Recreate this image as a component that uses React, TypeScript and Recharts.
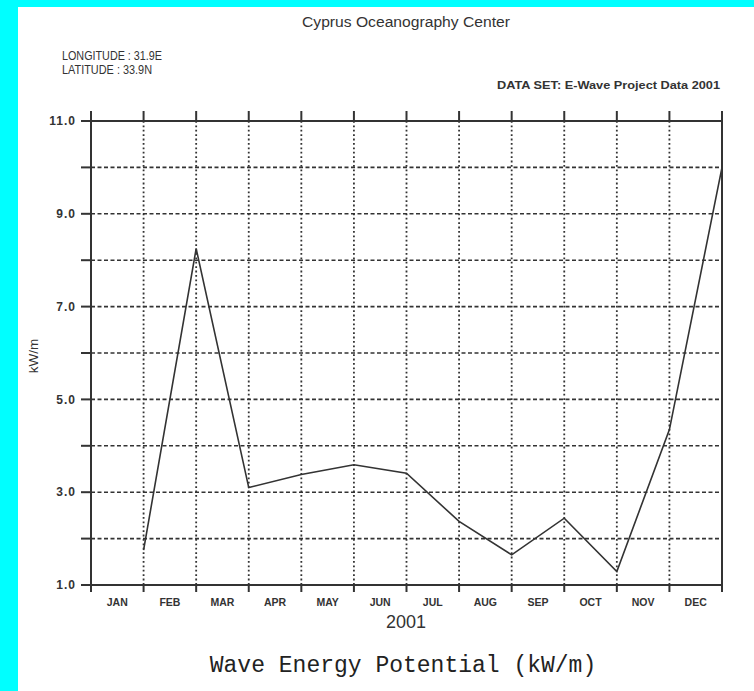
import { LineChart, Line, XAxis, YAxis, CartesianGrid } from 'recharts';

// monthly mean wave energy potential, kW/m (plotted at each month's end)
const months = ['JAN', 'FEB', 'MAR', 'APR', 'MAY', 'JUN', 'JUL', 'AUG', 'SEP', 'OCT', 'NOV', 'DEC'];
const kwValues = [1.75, 8.25, 3.1, 3.38, 3.59, 3.41, 2.37, 1.65, 2.44, 1.29, 4.35, 10.0];
const yTicks = [1, 2, 3, 4, 5, 6, 7, 8, 9, 10, 11];
const monthEdges = [0, 1, 2, 3, 4, 5, 6, 7, 8, 9, 10, 11, 12];
const monthMids = months.map((_, i) => i + 0.5);

const data = kwValues.map((kw, i) => ({ m: i + 1, kw }));

const INK = '#333';
const sans = '"Liberation Sans", Arial, sans-serif';
const blank = () => '';

export default function App() {
  return (
    <div
      style={{
        position: 'absolute',
        left: 0,
        top: 0,
        width: 754,
        height: 691,
        background: '#00ffff',
        overflow: 'hidden',
      }}
    >
      <div
        style={{ position: 'absolute', left: 18, top: 7, width: 736, height: 684, background: '#fff' }}
      />
      <div style={{ position: 'absolute', left: 0, top: 0 }}>
        <LineChart width={754} height={691} data={data} margin={{ top: 120, right: 22, left: 31, bottom: 65 }}>
          <CartesianGrid
            xAxisId="grid"
            yAxisId="left"
            vertical={false}
            stroke="#333"
            strokeWidth={1.6}
            strokeDasharray="4 2.5"
          />
          <CartesianGrid
            xAxisId="grid"
            yAxisId="left"
            horizontal={false}
            stroke="#333"
            strokeWidth={1.8}
            strokeDasharray="1.8 2.6"
          />
          <XAxis
            xAxisId="grid"
            type="number"
            dataKey="m"
            domain={[0, 12]}
            ticks={monthEdges}
            interval={0}
            tickFormatter={blank}
            tickSize={7}
            height={1}
            axisLine={{ stroke: INK, strokeWidth: 2 }}
            tickLine={{ stroke: INK, strokeWidth: 2 }}
          />
          <XAxis
            xAxisId="label"
            type="number"
            dataKey="m"
            domain={[0, 12]}
            allowDataOverflow
            ticks={monthMids}
            tickFormatter={(v: number) => months[Math.floor(v)]}
            axisLine={false}
            tickLine={false}
            tickSize={0}
            tickMargin={13}
            height={40}
            tick={{ fontSize: 10.5, fontWeight: 'bold', fill: INK, fontFamily: sans }}
            interval={0}
          />
          <XAxis
            xAxisId="top"
            orientation="top"
            type="number"
            dataKey="m"
            domain={[0, 12]}
            ticks={monthEdges}
            interval={0}
            tickFormatter={blank}
            tickSize={10}
            height={1}
            axisLine={{ stroke: INK, strokeWidth: 2 }}
            tickLine={{ stroke: INK, strokeWidth: 2 }}
          />
          <YAxis
            yAxisId="left"
            type="number"
            domain={[1, 11]}
            ticks={yTicks}
            interval={0}
            width={60}
            tickSize={10}
            tickMargin={5}
            tickFormatter={(v: number) => (v % 2 === 1 ? v.toFixed(1) : '')}
            tick={{ fontSize: 12, fontWeight: 'bold', fill: INK, fontFamily: sans, letterSpacing: 1 }}
            axisLine={{ stroke: INK, strokeWidth: 2 }}
            tickLine={{ stroke: INK, strokeWidth: 2 }}
          />
          <YAxis
            yAxisId="right"
            orientation="right"
            type="number"
            domain={[1, 11]}
            ticks={yTicks}
            interval={0}
            width={10}
            tickSize={10}
            tickFormatter={blank}
            axisLine={{ stroke: INK, strokeWidth: 2 }}
            tickLine={{ stroke: INK, strokeWidth: 2 }}
          />
          <Line
            xAxisId="grid"
            yAxisId="left"
            type="linear"
            dataKey="kw"
            stroke={INK}
            strokeWidth={1.6}
            dot={false}
            isAnimationActive={false}
          />
        </LineChart>
      </div>
      <svg
        width={754}
        height={691}
        style={{ position: 'absolute', left: 0, top: 0, pointerEvents: 'none' }}
      >
        <text x={406} y={27} textAnchor="middle" fontFamily={sans} fontSize={14} fill={INK}
          textLength={208} lengthAdjust="spacingAndGlyphs">
          Cyprus Oceanography Center
        </text>
        <text x={62} y={60} fontFamily={sans} fontSize={13} fill={INK}
          textLength={100} lengthAdjust="spacingAndGlyphs">
          LONGITUDE : 31.9E
        </text>
        <text x={62} y={74} fontFamily={sans} fontSize={13} fill={INK}
          textLength={90} lengthAdjust="spacingAndGlyphs">
          LATITUDE : 33.9N
        </text>
        <text x={720} y={89} textAnchor="end" fontFamily={sans} fontSize={11} fontWeight="bold" fill={INK}
          textLength={223} lengthAdjust="spacingAndGlyphs">
          DATA SET: E-Wave Project Data 2001
        </text>
        <text
          x={38}
          y={356}
          textAnchor="middle"
          fontFamily={sans}
          fontSize={13.5}
          fill={INK}
          transform="rotate(-90 38 356)"
        >
          kW/m
        </text>
        <text x={406} y={628} textAnchor="middle" fontFamily={sans} fontSize={18} fill={INK}>
          2001
        </text>
        <text
          x={403}
          y={672}
          textAnchor="middle"
          fontFamily='"Liberation Mono", "Courier New", monospace'
          fontSize={23}
          fill="#222"
        >
          Wave Energy Potential (kW/m)
        </text>
      </svg>
    </div>
  );
}
